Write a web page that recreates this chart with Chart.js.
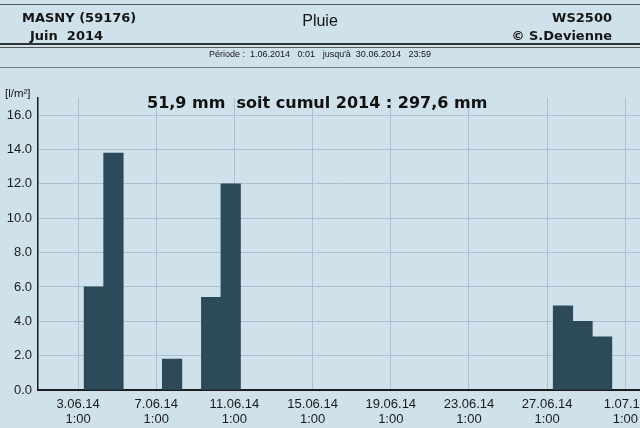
<!DOCTYPE html>
<html>
<head>
<meta charset="utf-8">
<script src="https://cdn.jsdelivr.net/npm/chart.js@4.4.1/dist/chart.umd.min.js"></script>
<style>
  html, body { margin: 0; padding: 0; background: #cfe1eb; }
  #wrap { position: relative; width: 640px; height: 428px; overflow: hidden; }
  canvas { position: absolute; left: 0; top: 0; }
  .t { position: absolute; white-space: pre; color: #151515; line-height: 16px; }
  .b { font-family: "DejaVu Sans"; font-weight: bold; font-size: 13px; }
  .hl { position: absolute; left: 0; width: 640px; background: #555; }
</style>
</head>
<body>
<div id="wrap">
  <canvas id="rain" width="640" height="428"></canvas>
  <div class="hl" style="top:4px;height:1px"></div>
  <div class="t b" style="left:22px;top:10px">MASNY (59176)</div>
  <div class="t b" style="left:30px;top:28px">Juin  2014</div>
  <div class="t" style="left:0;width:640px;text-align:center;top:12px;font:16px 'Liberation Sans'">Pluie</div>
  <div class="t b" style="right:28px;top:10px">WS2500</div>
  <div class="t b" style="right:28px;top:28px">© S.Devienne</div>
  <div class="hl" style="top:43px;height:2px;background:#333"></div>
  <div class="hl" style="top:47px;height:1px"></div>
  <div class="t" style="left:0;width:640px;text-align:center;top:49px;font:9px 'Liberation Sans'">Période :  1.06.2014   0:01   jusqu'à  30.06.2014   23:59</div>
  <div class="hl" style="top:67px;height:1px;background:#777"></div>
  <div class="t" style="left:5px;top:87px;font:11.5px 'Liberation Sans'">[l/m²]</div>
</div>
<script>
// daily rain, June 2014 (day of month -> l/m2)
const days = [3, 4, 7, 9, 10, 27, 28, 29];
const rain = [6.0, 13.8, 1.8, 5.4, 12.0, 4.9, 4.0, 3.1];

const xTickDays = [3, 7, 11, 15, 19, 23, 27, 31];
const xTickLabels = ['3.06.14', '7.06.14', '11.06.14', '15.06.14', '19.06.14', '23.06.14', '27.06.14', '1.07.14'];
const xTickTime = '1:00';
const yTickValues = [0, 2, 4, 6, 8, 10, 12, 14, 16];

const totalText = '51,9 mm  soit cumul 2014 : 297,6 mm';

// bars sit a bit after the day tick in the original
const BAR_SHIFT = 0.81;

const annotate = {
  id: 'annotate',
  afterDraw(chart) {
    const ctx = chart.ctx;
    ctx.save();
    ctx.font = 'bold 16px "DejaVu Sans"';
    ctx.fillStyle = '#111';
    ctx.textBaseline = 'middle';
    ctx.fillText(totalText, 147, 104);
    ctx.restore();
  }
};

new Chart(document.getElementById('rain').getContext('2d'), {
  type: 'bar',
  data: {
    datasets: [{
      data: days.map((d, i) => ({ x: d + BAR_SHIFT, y: rain[i] })),
      backgroundColor: '#2c4a5a',
      borderWidth: 0,
      barPercentage: 1,
      categoryPercentage: 1
    }]
  },
  options: {
    responsive: false,
    animation: false,
    layout: { padding: { top: 98, left: 0, right: 0, bottom: 0 } },
    plugins: { legend: { display: false }, tooltip: { enabled: false } },
    scales: {
      x: {
        type: 'linear',
        offset: false,
        min: 0.95,
        max: 31.75,
        afterBuildTicks(scale) {
          scale.ticks = xTickDays.map(v => ({ value: v }));
        },
        afterFit(scale) {
          scale.height = 38;
          scale.paddingLeft = 0;
          scale.paddingRight = 0;
        },
        grid: { color: '#aac0cd', lineWidth: 1, drawTicks: false, offset: false },
        border: { color: '#1b1b1b', width: 2 },
        ticks: {
          padding: 7,
          maxRotation: 0,
          autoSkip: false,
          color: '#1a1a1a',
          font: { family: 'Liberation Sans', size: 13, lineHeight: 1.15 },
          callback: (v) => {
            const i = xTickDays.indexOf(v);
            return i < 0 ? '' : [xTickLabels[i], xTickTime];
          }
        }
      },
      y: {
        min: 0,
        max: 17,
        afterBuildTicks(scale) {
          scale.ticks = yTickValues.map(v => ({ value: v }));
        },
        afterFit(scale) {
          scale.width = 38;
          scale.paddingTop = 0;
          scale.paddingBottom = 0;
        },
        grid: { color: '#aac0cd', lineWidth: 1, drawTicks: false },
        border: { color: '#1b1b1b', width: 1.5 },
        ticks: {
          padding: 6,
          color: '#1a1a1a',
          font: { family: 'Liberation Sans', size: 13 },
          callback: (v) => v.toFixed(1)
        }
      }
    }
  },
  plugins: [annotate]
});
</script>
</body>
</html>
